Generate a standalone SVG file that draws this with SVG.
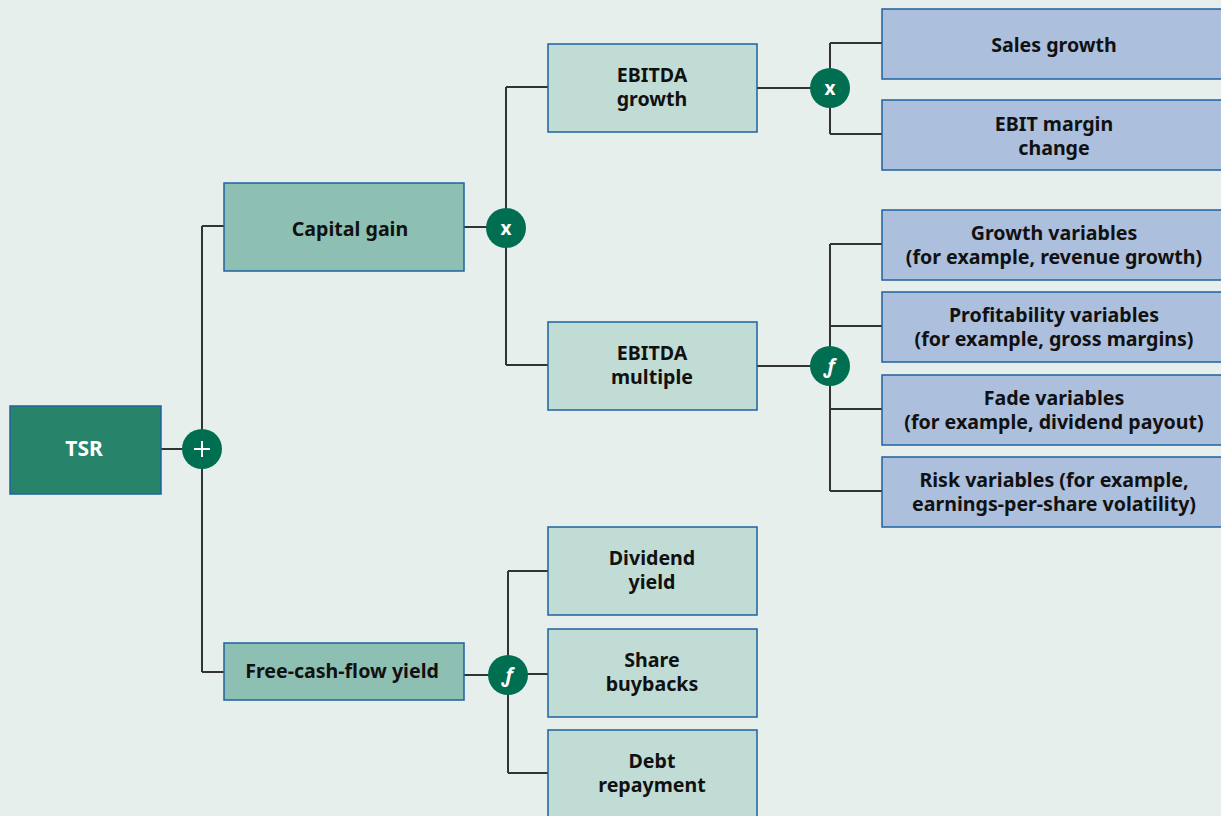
<svg xmlns="http://www.w3.org/2000/svg" width="1221" height="816" viewBox="0 0 1221 816">
<style>
.bg{fill:#e6efeb}
.box{stroke:#1e63a0;stroke-width:1.5}
.l0{fill:#27846b}
.l1{fill:#8ebfb3}
.l2{fill:#c0dcd5}
.l3{fill:#acbfdc}
.t{font-family:"Noto Sans","Open Sans",sans-serif;font-weight:bold;font-size:19.6px;fill:#111;text-anchor:middle}
.tw{fill:#fff;font-size:21px}
.ln{fill:none;stroke:#333;stroke-width:2}
.op{fill:#006f51}
.opt{font-family:"Noto Sans",sans-serif;font-weight:bold;fill:#fff;text-anchor:middle}
</style>
<rect class="bg" x="0" y="0" width="1221" height="816"/>
<g id="connectors">
<path class="ln" d="M161 449H202M202 226V672M202 226H224M202 672H224"/>
<path class="ln" d="M464 227H506M506 87V365M506 87H548M506 365H548"/>
<path class="ln" d="M757 88H830M830 43V134M830 43H882M830 134H882"/>
<path class="ln" d="M757 366H830M830 244V491M830 244H882M830 326H882M830 409H882M830 491H882"/>
<path class="ln" d="M464 675H508M508 571V773M508 571H548M508 674H548M508 773H548"/>
</g>
<g id="op-plus"><circle class="op" cx="202" cy="449" r="20"/><path d="M194 449H210M202 441V457" stroke="#fff" stroke-width="2"/></g>
<g id="op-x1"><circle class="op" cx="506" cy="228" r="20"/><text class="opt" x="506" y="235" font-size="19">x</text></g>
<g id="op-x2"><circle class="op" cx="830" cy="88" r="20"/><text class="opt" x="830" y="95" font-size="19">x</text></g>
<g id="op-f1"><circle class="op" cx="830" cy="366" r="20"/><text class="opt" x="830" y="373" font-size="20" font-style="italic" font-family="Liberation Serif,serif">ƒ</text></g>
<g id="op-f2"><circle class="op" cx="508" cy="675" r="20"/><text class="opt" x="508" y="682" font-size="20" font-style="italic" font-family="Liberation Serif,serif">ƒ</text></g>
<g id="tsr"><rect class="box l0" x="10" y="406" width="151" height="88"/><text class="t tw" x="84" y="456">TSR</text></g>
<g id="capital-gain"><rect class="box l1" x="224" y="183" width="240" height="88"/><text class="t" x="350" y="236">Capital gain</text></g>
<g id="fcf-yield"><rect class="box l1" x="224" y="643" width="240" height="57"/><text class="t" x="342" y="678">Free-cash-flow yield</text></g>
<g id="ebitda-growth"><rect class="box l2" x="548" y="44" width="209" height="88"/><text class="t" x="652" y="82">EBITDA</text><text class="t" x="652" y="106">growth</text></g>
<g id="ebitda-multiple"><rect class="box l2" x="548" y="322" width="209" height="88"/><text class="t" x="652" y="360">EBITDA</text><text class="t" x="652" y="384">multiple</text></g>
<g id="dividend-yield"><rect class="box l2" x="548" y="527" width="209" height="88"/><text class="t" x="652" y="565">Dividend</text><text class="t" x="652" y="589">yield</text></g>
<g id="share-buybacks"><rect class="box l2" x="548" y="629" width="209" height="88"/><text class="t" x="652" y="667">Share</text><text class="t" x="652" y="691">buybacks</text></g>
<g id="debt-repayment"><rect class="box l2" x="548" y="730" width="209" height="90"/><text class="t" x="652" y="768">Debt</text><text class="t" x="652" y="792">repayment</text></g>
<g id="sales-growth"><rect class="box l3" x="882" y="9" width="345" height="70"/><text class="t" x="1054" y="52">Sales growth</text></g>
<g id="ebit-margin"><rect class="box l3" x="882" y="100" width="345" height="70"/><text class="t" x="1054" y="131">EBIT margin</text><text class="t" x="1054" y="155">change</text></g>
<g id="growth-vars"><rect class="box l3" x="882" y="210" width="345" height="70"/><text class="t" x="1054" y="240">Growth variables</text><text class="t" x="1054" y="264">(for example, revenue growth)</text></g>
<g id="profit-vars"><rect class="box l3" x="882" y="292" width="345" height="70"/><text class="t" x="1054" y="322">Profitability variables</text><text class="t" x="1054" y="346">(for example, gross margins)</text></g>
<g id="fade-vars"><rect class="box l3" x="882" y="375" width="345" height="70"/><text class="t" x="1054" y="405">Fade variables</text><text class="t" x="1054" y="429">(for example, dividend payout)</text></g>
<g id="risk-vars"><rect class="box l3" x="882" y="457" width="345" height="70"/><text class="t" x="1054" y="487">Risk variables (for example,</text><text class="t" x="1054" y="511">earnings-per-share volatility)</text></g>
</svg>
